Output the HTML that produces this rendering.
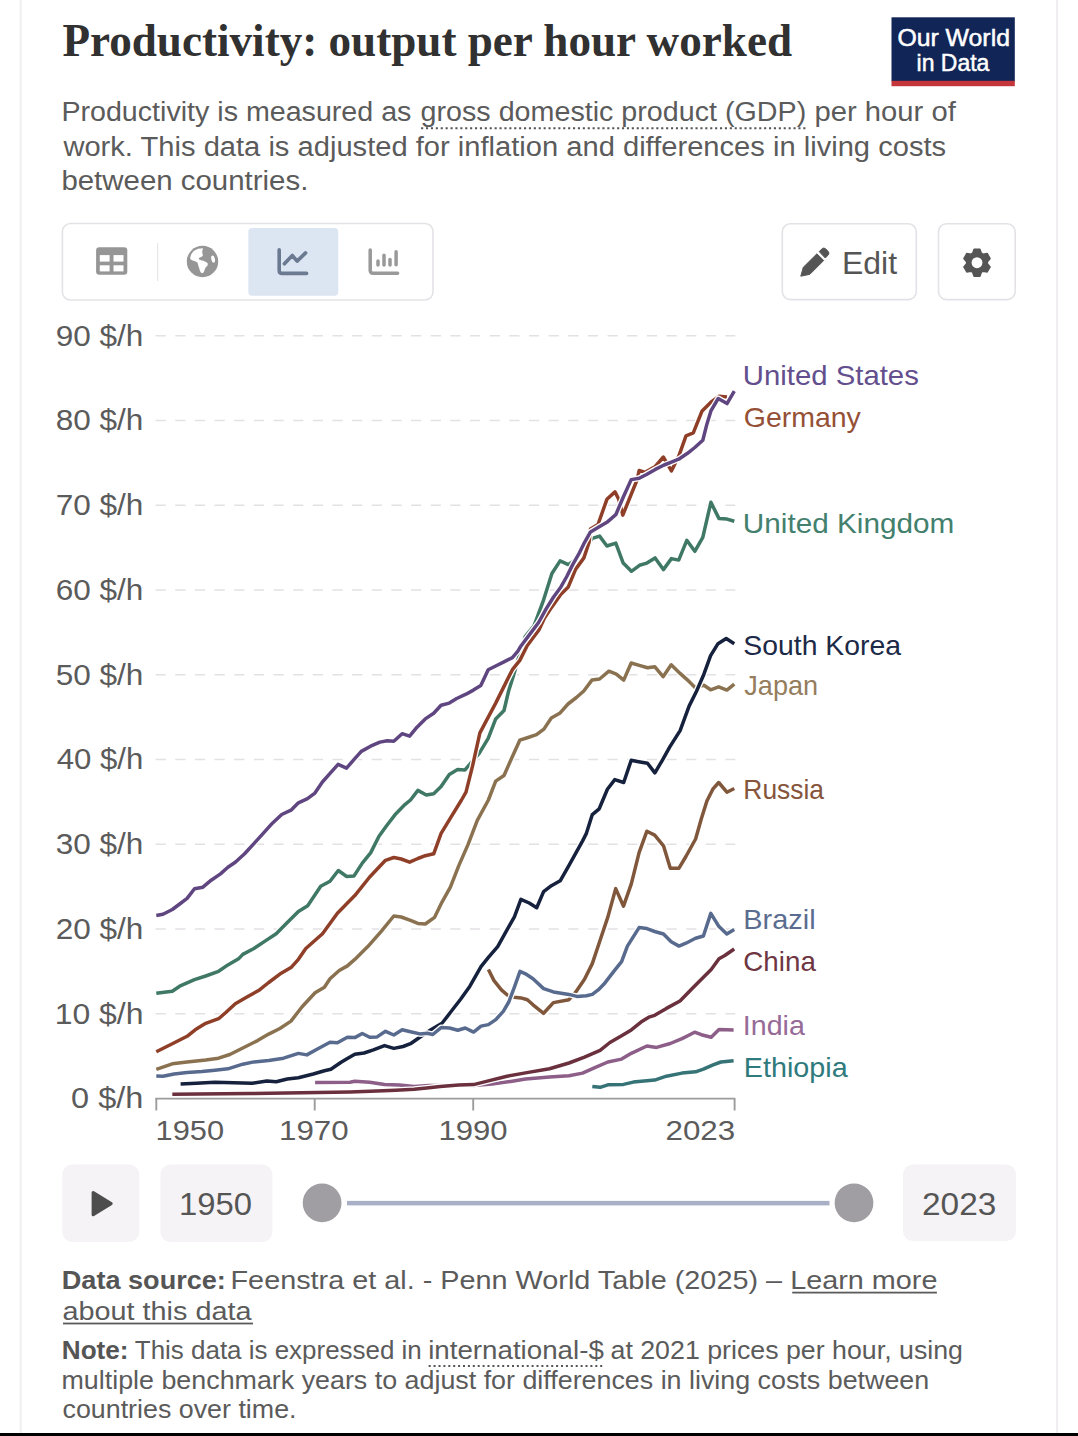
<!DOCTYPE html>
<html><head><meta charset="utf-8"><title>Productivity: output per hour worked</title>
<style>
html,body{margin:0;padding:0;background:#fff;}
body{width:1078px;height:1436px;overflow:hidden;position:relative;}
svg{position:absolute;left:0;top:0;display:block;}
</style></head><body>
<svg width="1078" height="1436" viewBox="0 0 1078 1436">
<rect x="0" y="0" width="1078" height="1436" fill="#ffffff"/>
<rect x="19.5" y="0" width="2.5" height="1433" fill="#f3f1f3"/>
<rect x="1056" y="0" width="2.2" height="1433" fill="#efedef"/>
<rect x="0" y="1433" width="1078" height="3" fill="#000"/>
<g transform="translate(0,56.3) scale(1,1.065) translate(0,-56.3)"><text x="62.40" y="56.3" font-family="'Liberation Serif', 'Times New Roman', serif" font-size="44" fill="#313131" font-weight="bold" text-anchor="start" textLength="729.62" lengthAdjust="spacingAndGlyphs">Productivity: output per hour worked</text>
</g>
<rect x="891.5" y="17.3" width="123.3" height="64" fill="#112657"/>
<rect x="891.5" y="80.8" width="123.3" height="5.4" fill="#c4363a"/>
<text x="897.40" y="46.3" font-family="'Liberation Sans', Arial, sans-serif" font-size="24.5" fill="#fff" font-weight="normal" text-anchor="start" textLength="112.55" lengthAdjust="spacingAndGlyphs" stroke="#fff" stroke-width="0.5">Our World</text>
<text x="916.60" y="70.9" font-family="'Liberation Sans', Arial, sans-serif" font-size="24.5" fill="#fff" font-weight="normal" text-anchor="start" textLength="72.82" lengthAdjust="spacingAndGlyphs" stroke="#fff" stroke-width="0.5">in Data</text>
<text x="61.40" y="121.2" font-family="'Liberation Sans', Arial, sans-serif" font-size="27" fill="#5b5b5b" font-weight="normal" text-anchor="start" textLength="350.02" lengthAdjust="spacingAndGlyphs">Productivity is measured as</text>
<text x="420.60" y="121.2" font-family="'Liberation Sans', Arial, sans-serif" font-size="27" fill="#5b5b5b" font-weight="normal" text-anchor="start" textLength="385.59" lengthAdjust="spacingAndGlyphs">gross domestic product (GDP)</text>
<line x1="421.1" y1="128.2" x2="808" y2="128.2" stroke="#555" stroke-width="2.1" stroke-dasharray="2.1,2.8"/>
<text x="814.50" y="121.2" font-family="'Liberation Sans', Arial, sans-serif" font-size="27" fill="#5b5b5b" font-weight="normal" text-anchor="start" textLength="141.3" lengthAdjust="spacingAndGlyphs">per hour of</text>
<text x="63.40" y="156.2" font-family="'Liberation Sans', Arial, sans-serif" font-size="27" fill="#5b5b5b" font-weight="normal" text-anchor="start" textLength="882.74" lengthAdjust="spacingAndGlyphs">work. This data is adjusted for inflation and differences in living costs</text>
<text x="61.40" y="189.6" font-family="'Liberation Sans', Arial, sans-serif" font-size="27" fill="#5b5b5b" font-weight="normal" text-anchor="start" textLength="246.93" lengthAdjust="spacingAndGlyphs">between countries.</text>
<rect x="62.4" y="223.5" width="370.6" height="76.5" rx="8" fill="#fff" stroke="#e4e2e6" stroke-width="1.6"/>
<line x1="157.6" y1="243" x2="157.6" y2="281" stroke="#e8e6e8" stroke-width="1.2"/>
<g fill="#969696"><rect x="96.1" y="247.3" width="31.2" height="27.4" rx="3.2"/></g>
<g fill="#fff"><rect x="99.8" y="255.1" width="9.8" height="6.5"/><rect x="113.5" y="255.1" width="10" height="6.5"/><rect x="99.8" y="265.3" width="9.8" height="6.1"/><rect x="113.5" y="265.3" width="10" height="6.1"/></g>
<g transform="translate(202.5,261.5)"><circle r="15.7" fill="#969696"/>
<path d="M-12.3,-4.1 C-11.8,-6.5 -10.5,-9 -8.5,-10.8 C-6,-12.5 -3,-13.3 0.5,-13.3 C0,-11.5 -0.5,-10 -0.2,-8.8 C0,-7.5 0.6,-6.3 0.1,-5.6 C-1,-4.6 -3.2,-4.2 -3.8,-3.2 C-4,-2 -2,-1.2 -0.3,-1 C1.2,-0.6 2.4,0 3,0.3 C4.2,1 5.3,1.5 5.3,2.5 C5.3,3.5 5,4 4.6,4.6 C3.8,5.5 3,6 2.6,7 C2,8.5 1.8,10 1.2,10.8 C0.6,11.6 -0.5,11.9 -1,11.6 C-1.8,11 -2.4,10 -2.7,8.8 C-3.2,7 -3.8,5.5 -4.2,4.2 C-4.5,3 -4.6,1.8 -5,1.2 C-5.8,0.3 -6.8,-0.1 -7.6,-0.3 C-9,-0.7 -10.5,-1.2 -11.8,-1.9 C-12.2,-2.6 -12.4,-3.3 -12.3,-4.1 Z" fill="#fff"/>
<ellipse cx="10.6" cy="-2.4" rx="1.8" ry="3.6" transform="rotate(-12 10.6 -2.4)" fill="#fff"/></g>
<rect x="248.3" y="228" width="90" height="67.7" rx="4" fill="#dce5f2"/>
<path d="M279.2,249.9 V270.4 Q279.2,273.4 282.2,273.4 H306.6" fill="none" stroke="#6b7a91" stroke-width="3.6" stroke-linecap="round" stroke-linejoin="round"/>
<path d="M284.4,263.8 L292.3,255.5 L297.1,261.1 L305.6,252.9" fill="none" stroke="#6b7a91" stroke-width="3.6" stroke-linecap="round" stroke-linejoin="round"/>
<path d="M370.2,249.9 V270.2 Q370.2,273.2 373.2,273.2 H397.6" fill="none" stroke="#999" stroke-width="3.5" stroke-linecap="round" stroke-linejoin="round"/>
<g stroke="#999" stroke-width="3.5" stroke-linecap="round"><line x1="378" y1="261.1" x2="378" y2="265"/><line x1="384" y1="255.3" x2="384" y2="265"/><line x1="390" y1="259.5" x2="390" y2="265"/><line x1="396.1" y1="251.8" x2="396.1" y2="264.7"/></g>
<rect x="782.3" y="223.8" width="134" height="75.8" rx="8" fill="#fff" stroke="#e4e2e6" stroke-width="1.6"/>
<path d="M800.8,276.2 L803.3,267.3 L816.9,253.8 L823.7,260.5 L809.9,274.3 Z" fill="#555" stroke="#555" stroke-width="1" stroke-linejoin="round"/>
<path d="M819.2,251.6 L822.2,248.7 Q823.8,247.3 825.6,248.8 L828.2,251.4 Q829.7,253.2 828.2,254.9 L825.3,258 Z" fill="#555" stroke="#555" stroke-width="1" stroke-linejoin="round"/>
<text x="842.00" y="273.7" font-family="'Liberation Sans', Arial, sans-serif" font-size="31" fill="#555" font-weight="normal" text-anchor="start" textLength="55.08" lengthAdjust="spacingAndGlyphs">Edit</text>
<rect x="938.5" y="223.8" width="76.7" height="75.8" rx="8" fill="#fff" stroke="#e4e2e6" stroke-width="1.6"/>
<path d="M972.62,253.16 L974.06,249.22 L979.94,249.22 L981.38,253.16 L983.08,254.14 L987.20,253.41 L990.15,258.51 L987.45,261.72 L987.45,263.68 L990.15,266.89 L987.20,271.99 L983.08,271.26 L981.38,272.24 L979.94,276.18 L974.06,276.18 L972.62,272.24 L970.92,271.26 L966.80,271.99 L963.85,266.89 L966.55,263.68 L966.55,261.72 L963.85,258.51 L966.80,253.41 L970.92,254.14 Z M981.75,262.7 A4.75,4.75 0 1 0 972.25,262.7 A4.75,4.75 0 1 0 981.75,262.7 Z" fill="#555" fill-rule="evenodd" stroke="#555" stroke-width="1.4" stroke-linejoin="round"/>
<circle cx="977" cy="262.7" r="5.45" fill="#fff"/>
<line x1="155.6" y1="1013.8" x2="735.3" y2="1013.8" stroke="#e3e1e3" stroke-width="1.5" stroke-dasharray="10.2,9.45"/>
<line x1="155.6" y1="929.0" x2="735.3" y2="929.0" stroke="#e3e1e3" stroke-width="1.5" stroke-dasharray="10.2,9.45"/>
<line x1="155.6" y1="844.2" x2="735.3" y2="844.2" stroke="#e3e1e3" stroke-width="1.5" stroke-dasharray="10.2,9.45"/>
<line x1="155.6" y1="759.5" x2="735.3" y2="759.5" stroke="#e3e1e3" stroke-width="1.5" stroke-dasharray="10.2,9.45"/>
<line x1="155.6" y1="674.8" x2="735.3" y2="674.8" stroke="#e3e1e3" stroke-width="1.5" stroke-dasharray="10.2,9.45"/>
<line x1="155.6" y1="590.0" x2="735.3" y2="590.0" stroke="#e3e1e3" stroke-width="1.5" stroke-dasharray="10.2,9.45"/>
<line x1="155.6" y1="505.2" x2="735.3" y2="505.2" stroke="#e3e1e3" stroke-width="1.5" stroke-dasharray="10.2,9.45"/>
<line x1="155.6" y1="420.5" x2="735.3" y2="420.5" stroke="#e3e1e3" stroke-width="1.5" stroke-dasharray="10.2,9.45"/>
<line x1="155.6" y1="335.8" x2="735.3" y2="335.8" stroke="#e3e1e3" stroke-width="1.5" stroke-dasharray="10.2,9.45"/>
<text x="71.10" y="1108.3" font-family="'Liberation Sans', Arial, sans-serif" font-size="28.6" fill="#5b5b5b" font-weight="normal" text-anchor="start" textLength="72.31" lengthAdjust="spacingAndGlyphs">0 $/h</text>
<text x="54.70" y="1023.5" font-family="'Liberation Sans', Arial, sans-serif" font-size="28.6" fill="#5b5b5b" font-weight="normal" text-anchor="start" textLength="88.78" lengthAdjust="spacingAndGlyphs">10 $/h</text>
<text x="55.70" y="938.8" font-family="'Liberation Sans', Arial, sans-serif" font-size="28.6" fill="#5b5b5b" font-weight="normal" text-anchor="start" textLength="87.74" lengthAdjust="spacingAndGlyphs">20 $/h</text>
<text x="55.70" y="854.0" font-family="'Liberation Sans', Arial, sans-serif" font-size="28.6" fill="#5b5b5b" font-weight="normal" text-anchor="start" textLength="87.7" lengthAdjust="spacingAndGlyphs">30 $/h</text>
<text x="56.70" y="769.3" font-family="'Liberation Sans', Arial, sans-serif" font-size="28.6" fill="#5b5b5b" font-weight="normal" text-anchor="start" textLength="86.67" lengthAdjust="spacingAndGlyphs">40 $/h</text>
<text x="55.70" y="684.5" font-family="'Liberation Sans', Arial, sans-serif" font-size="28.6" fill="#5b5b5b" font-weight="normal" text-anchor="start" textLength="87.74" lengthAdjust="spacingAndGlyphs">50 $/h</text>
<text x="55.70" y="599.8" font-family="'Liberation Sans', Arial, sans-serif" font-size="28.6" fill="#5b5b5b" font-weight="normal" text-anchor="start" textLength="87.74" lengthAdjust="spacingAndGlyphs">60 $/h</text>
<text x="55.70" y="515.0" font-family="'Liberation Sans', Arial, sans-serif" font-size="28.6" fill="#5b5b5b" font-weight="normal" text-anchor="start" textLength="87.74" lengthAdjust="spacingAndGlyphs">70 $/h</text>
<text x="55.70" y="430.3" font-family="'Liberation Sans', Arial, sans-serif" font-size="28.6" fill="#5b5b5b" font-weight="normal" text-anchor="start" textLength="87.7" lengthAdjust="spacingAndGlyphs">80 $/h</text>
<text x="55.70" y="345.6" font-family="'Liberation Sans', Arial, sans-serif" font-size="28.6" fill="#5b5b5b" font-weight="normal" text-anchor="start" textLength="87.74" lengthAdjust="spacingAndGlyphs">90 $/h</text>
<line x1="155.3" y1="1098.6" x2="735.3" y2="1098.6" stroke="#9c9c9c" stroke-width="1.9"/>
<line x1="156.3" y1="1098.5" x2="156.3" y2="1110.5" stroke="#9c9c9c" stroke-width="1.9"/>
<line x1="314.7" y1="1098.5" x2="314.7" y2="1110.5" stroke="#9c9c9c" stroke-width="1.9"/>
<line x1="473.2" y1="1098.5" x2="473.2" y2="1110.5" stroke="#9c9c9c" stroke-width="1.9"/>
<line x1="734.6" y1="1098.5" x2="734.6" y2="1110.5" stroke="#9c9c9c" stroke-width="1.9"/>
<text x="155.60" y="1139.7" font-family="'Liberation Sans', Arial, sans-serif" font-size="28" fill="#5b5b5b" font-weight="normal" text-anchor="start" textLength="68.52" lengthAdjust="spacingAndGlyphs">1950</text>
<text x="279.00" y="1139.7" font-family="'Liberation Sans', Arial, sans-serif" font-size="28" fill="#5b5b5b" font-weight="normal" text-anchor="start" textLength="69.56" lengthAdjust="spacingAndGlyphs">1970</text>
<text x="438.50" y="1139.7" font-family="'Liberation Sans', Arial, sans-serif" font-size="28" fill="#5b5b5b" font-weight="normal" text-anchor="start" textLength="69.04" lengthAdjust="spacingAndGlyphs">1990</text>
<text x="665.50" y="1139.7" font-family="'Liberation Sans', Arial, sans-serif" font-size="28" fill="#5b5b5b" font-weight="normal" text-anchor="start" textLength="69.64" lengthAdjust="spacingAndGlyphs">2023</text>
<polyline points="156.3,993.3 172.3,991.2 179.7,986.2 194.5,979.7 205.7,976.0 218.6,971.3 227.9,964.9 239.0,958.4 242.8,954.4 253.9,948.5 265.0,941.1 276.2,933.7 287.3,922.5 298.4,911.4 307.7,905.8 320.7,886.3 330.0,881.3 338.3,870.5 346.7,876.5 353.9,876.1 362.3,863.1 370.6,852.9 379.0,836.2 386.4,826.0 395.7,813.9 404.9,804.6 410.5,800.0 417.9,790.4 426.3,795.0 433.7,793.7 441.1,786.6 449.3,774.6 457.6,769.6 465.0,769.9 469.7,764.4 479.0,753.6 488.2,738.4 495.7,718.9 504.0,710.5 508.6,691.0 513.3,676.2 519.0,656.0 525.2,636.6 534.1,625.5 543.0,601.7 551.9,573.5 560.1,560.9 568.3,564.6 575.5,559.7 584.6,542.6 589.5,541.8 592.3,538.4 599.6,536.1 606.9,546.0 615.8,543.1 623.2,563.1 631.4,571.3 639.5,565.3 646.9,563.1 655.1,557.9 663.4,569.6 671.4,558.6 678.7,560.1 686.8,540.3 694.8,551.3 702.8,537.4 710.9,502.3 718.9,518.4 727.0,519.1 734.3,521.3" fill="none" stroke="#fff" stroke-width="6.1" stroke-linejoin="round" stroke-linecap="butt"/>
<polyline points="156.3,993.3 172.3,991.2 179.7,986.2 194.5,979.7 205.7,976.0 218.6,971.3 227.9,964.9 239.0,958.4 242.8,954.4 253.9,948.5 265.0,941.1 276.2,933.7 287.3,922.5 298.4,911.4 307.7,905.8 320.7,886.3 330.0,881.3 338.3,870.5 346.7,876.5 353.9,876.1 362.3,863.1 370.6,852.9 379.0,836.2 386.4,826.0 395.7,813.9 404.9,804.6 410.5,800.0 417.9,790.4 426.3,795.0 433.7,793.7 441.1,786.6 449.3,774.6 457.6,769.6 465.0,769.9 469.7,764.4 479.0,753.6 488.2,738.4 495.7,718.9 504.0,710.5 508.6,691.0 513.3,676.2 519.0,656.0 525.2,636.6 534.1,625.5 543.0,601.7 551.9,573.5 560.1,560.9 568.3,564.6 575.5,559.7 584.6,542.6 589.5,541.8 592.3,538.4 599.6,536.1 606.9,546.0 615.8,543.1 623.2,563.1 631.4,571.3 639.5,565.3 646.9,563.1 655.1,557.9 663.4,569.6 671.4,558.6 678.7,560.1 686.8,540.3 694.8,551.3 702.8,537.4 710.9,502.3 718.9,518.4 727.0,519.1 734.3,521.3" fill="none" stroke="#3f7864" stroke-width="3.5" stroke-linejoin="round" stroke-linecap="butt"/>
<polyline points="315.1,1082.5 350.0,1082.2 354.8,1081.2 369.7,1082.2 384.5,1084.6 399.4,1085.1 414.2,1086.4 429.0,1085.5 473.6,1085.5 492.1,1084.0 510.7,1081.4 525.5,1079.0 549.5,1077.0 569.0,1075.7 582.6,1073.1 594.3,1067.9 607.9,1062.0 621.6,1059.1 631.3,1053.3 646.9,1046.0 656.6,1047.4 670.3,1043.5 682.0,1038.6 687.8,1035.7 694.6,1032.2 701.4,1034.7 711.2,1037.3 719.0,1029.5 733.6,1029.9" fill="none" stroke="#fff" stroke-width="6.1" stroke-linejoin="round" stroke-linecap="butt"/>
<polyline points="315.1,1082.5 350.0,1082.2 354.8,1081.2 369.7,1082.2 384.5,1084.6 399.4,1085.1 414.2,1086.4 429.0,1085.5 473.6,1085.5 492.1,1084.0 510.7,1081.4 525.5,1079.0 549.5,1077.0 569.0,1075.7 582.6,1073.1 594.3,1067.9 607.9,1062.0 621.6,1059.1 631.3,1053.3 646.9,1046.0 656.6,1047.4 670.3,1043.5 682.0,1038.6 687.8,1035.7 694.6,1032.2 701.4,1034.7 711.2,1037.3 719.0,1029.5 733.6,1029.9" fill="none" stroke="#8c5e88" stroke-width="3.5" stroke-linejoin="round" stroke-linecap="butt"/>
<polyline points="172.3,1094.2 250.0,1093.5 350.0,1092.0 377.1,1091.1 395.7,1090.2 414.2,1089.2 429.0,1087.7 440.2,1086.4 458.7,1085.1 473.6,1084.6 488.4,1080.9 507.0,1076.2 525.5,1072.9 549.5,1068.8 569.0,1063.0 584.5,1057.1 600.1,1050.3 609.9,1042.5 621.6,1035.7 631.3,1029.9 641.0,1022.1 648.8,1017.2 654.7,1015.3 666.4,1008.4 680.0,1001.0 691.7,989.0 701.4,979.2 711.2,969.5 719.0,958.8 724.8,955.5 734.2,949.0" fill="none" stroke="#fff" stroke-width="6.1" stroke-linejoin="round" stroke-linecap="butt"/>
<polyline points="172.3,1094.2 250.0,1093.5 350.0,1092.0 377.1,1091.1 395.7,1090.2 414.2,1089.2 429.0,1087.7 440.2,1086.4 458.7,1085.1 473.6,1084.6 488.4,1080.9 507.0,1076.2 525.5,1072.9 549.5,1068.8 569.0,1063.0 584.5,1057.1 600.1,1050.3 609.9,1042.5 621.6,1035.7 631.3,1029.9 641.0,1022.1 648.8,1017.2 654.7,1015.3 666.4,1008.4 680.0,1001.0 691.7,989.0 701.4,979.2 711.2,969.5 719.0,958.8 724.8,955.5 734.2,949.0" fill="none" stroke="#6a303d" stroke-width="3.5" stroke-linejoin="round" stroke-linecap="butt"/>
<polyline points="592.3,1086.4 600.1,1087.3 607.9,1084.8 623.5,1084.4 633.3,1082.1 654.7,1080.1 666.4,1076.2 682.0,1073.1 695.6,1071.8 703.4,1069.2 713.1,1064.9 720.9,1062.0 733.6,1060.7" fill="none" stroke="#fff" stroke-width="6.1" stroke-linejoin="round" stroke-linecap="butt"/>
<polyline points="592.3,1086.4 600.1,1087.3 607.9,1084.8 623.5,1084.4 633.3,1082.1 654.7,1080.1 666.4,1076.2 682.0,1073.1 695.6,1071.8 703.4,1069.2 713.1,1064.9 720.9,1062.0 733.6,1060.7" fill="none" stroke="#357377" stroke-width="3.5" stroke-linejoin="round" stroke-linecap="butt"/>
<polyline points="488.4,969.5 494.0,980.6 501.4,989.9 507.9,995.5 514.4,997.3 520.9,997.9 527.4,999.7 533.0,1004.8 543.6,1013.3 553.4,1002.6 569.0,999.7 575.8,991.9 584.5,979.2 592.3,963.6 600.1,940.3 607.9,916.9 615.7,888.6 623.5,906.2 631.3,883.8 639.1,852.6 646.9,831.2 654.7,835.1 663.5,845.8 670.3,868.2 679.0,868.2 685.9,856.5 695.6,839.0 701.4,818.5 706.9,801.0 712.8,789.2 718.7,782.5 726.9,792.2 734.3,788.5" fill="none" stroke="#fff" stroke-width="6.1" stroke-linejoin="round" stroke-linecap="butt"/>
<polyline points="488.4,969.5 494.0,980.6 501.4,989.9 507.9,995.5 514.4,997.3 520.9,997.9 527.4,999.7 533.0,1004.8 543.6,1013.3 553.4,1002.6 569.0,999.7 575.8,991.9 584.5,979.2 592.3,963.6 600.1,940.3 607.9,916.9 615.7,888.6 623.5,906.2 631.3,883.8 639.1,852.6 646.9,831.2 654.7,835.1 663.5,845.8 670.3,868.2 679.0,868.2 685.9,856.5 695.6,839.0 701.4,818.5 706.9,801.0 712.8,789.2 718.7,782.5 726.9,792.2 734.3,788.5" fill="none" stroke="#80573b" stroke-width="3.5" stroke-linejoin="round" stroke-linecap="butt"/>
<polyline points="156.3,1069.4 172.3,1063.8 187.1,1062.0 205.7,1060.1 218.6,1058.2 229.8,1054.5 242.8,1048.0 257.6,1040.6 268.7,1034.1 279.9,1028.5 291.0,1021.1 302.1,1006.7 315.1,992.8 324.4,987.2 330.0,978.8 339.2,970.5 347.4,965.9 354.8,959.4 367.8,946.6 380.8,931.8 393.8,916.0 401.2,917.0 410.5,920.3 417.9,923.4 425.3,924.0 434.6,917.3 442.0,902.1 450.4,887.2 458.7,865.9 468.0,844.6 477.3,820.4 488.4,800.0 495.7,781.1 504.0,775.5 511.4,758.8 519.8,740.2 528.1,737.5 536.5,734.7 543.9,729.1 551.3,718.0 559.7,713.3 568.0,704.0 576.4,697.5 583.8,691.0 592.1,679.9 599.6,679.0 608.9,671.2 616.3,674.2 623.7,680.1 631.2,663.0 640.1,665.7 647.5,667.8 654.9,666.8 663.1,676.7 671.2,664.8 680.1,673.4 687.6,680.1 695.0,687.5 703.9,685.3 710.6,689.8 718.7,686.8 726.9,690.1 734.3,684.1" fill="none" stroke="#fff" stroke-width="6.1" stroke-linejoin="round" stroke-linecap="butt"/>
<polyline points="156.3,1069.4 172.3,1063.8 187.1,1062.0 205.7,1060.1 218.6,1058.2 229.8,1054.5 242.8,1048.0 257.6,1040.6 268.7,1034.1 279.9,1028.5 291.0,1021.1 302.1,1006.7 315.1,992.8 324.4,987.2 330.0,978.8 339.2,970.5 347.4,965.9 354.8,959.4 367.8,946.6 380.8,931.8 393.8,916.0 401.2,917.0 410.5,920.3 417.9,923.4 425.3,924.0 434.6,917.3 442.0,902.1 450.4,887.2 458.7,865.9 468.0,844.6 477.3,820.4 488.4,800.0 495.7,781.1 504.0,775.5 511.4,758.8 519.8,740.2 528.1,737.5 536.5,734.7 543.9,729.1 551.3,718.0 559.7,713.3 568.0,704.0 576.4,697.5 583.8,691.0 592.1,679.9 599.6,679.0 608.9,671.2 616.3,674.2 623.7,680.1 631.2,663.0 640.1,665.7 647.5,667.8 654.9,666.8 663.1,676.7 671.2,664.8 680.1,673.4 687.6,680.1 695.0,687.5 703.9,685.3 710.6,689.8 718.7,686.8 726.9,690.1 734.3,684.1" fill="none" stroke="#8a7250" stroke-width="3.5" stroke-linejoin="round" stroke-linecap="butt"/>
<polyline points="180.6,1084.0 196.4,1083.3 214.9,1082.2 233.5,1082.7 252.0,1083.3 266.9,1080.9 276.2,1081.8 287.3,1079.0 298.4,1077.7 313.3,1074.0 324.4,1070.7 330.9,1069.2 341.1,1062.3 347.4,1058.6 354.8,1054.3 364.1,1053.0 373.4,1049.9 384.5,1045.6 393.8,1048.4 403.1,1046.5 410.5,1043.7 419.8,1037.2 430.9,1029.8 442.0,1023.3 451.3,1011.3 460.6,999.2 469.9,986.2 481.0,966.7 488.4,957.4 497.7,946.6 507.0,929.9 514.4,916.9 520.9,899.3 529.2,903.0 536.7,907.7 543.6,891.6 551.4,885.7 560.2,880.8 569.0,865.3 582.6,840.9 586.5,833.1 592.3,814.6 599.2,808.8 607.4,789.2 614.8,779.6 623.7,782.5 631.2,760.3 638.6,761.7 647.5,763.2 654.9,772.9 662.3,760.3 669.8,746.9 680.1,730.6 689.1,706.1 696.5,691.2 703.9,674.2 710.6,655.6 718.0,643.7 726.2,638.6 734.3,643.7" fill="none" stroke="#fff" stroke-width="6.1" stroke-linejoin="round" stroke-linecap="butt"/>
<polyline points="180.6,1084.0 196.4,1083.3 214.9,1082.2 233.5,1082.7 252.0,1083.3 266.9,1080.9 276.2,1081.8 287.3,1079.0 298.4,1077.7 313.3,1074.0 324.4,1070.7 330.9,1069.2 341.1,1062.3 347.4,1058.6 354.8,1054.3 364.1,1053.0 373.4,1049.9 384.5,1045.6 393.8,1048.4 403.1,1046.5 410.5,1043.7 419.8,1037.2 430.9,1029.8 442.0,1023.3 451.3,1011.3 460.6,999.2 469.9,986.2 481.0,966.7 488.4,957.4 497.7,946.6 507.0,929.9 514.4,916.9 520.9,899.3 529.2,903.0 536.7,907.7 543.6,891.6 551.4,885.7 560.2,880.8 569.0,865.3 582.6,840.9 586.5,833.1 592.3,814.6 599.2,808.8 607.4,789.2 614.8,779.6 623.7,782.5 631.2,760.3 638.6,761.7 647.5,763.2 654.9,772.9 662.3,760.3 669.8,746.9 680.1,730.6 689.1,706.1 696.5,691.2 703.9,674.2 710.6,655.6 718.0,643.7 726.2,638.6 734.3,643.7" fill="none" stroke="#15213d" stroke-width="3.5" stroke-linejoin="round" stroke-linecap="butt"/>
<polyline points="156.3,1075.9 163.0,1076.2 174.1,1074.0 187.1,1072.5 202.0,1071.6 214.9,1070.3 227.9,1068.8 242.8,1064.2 253.9,1061.9 268.7,1060.5 283.6,1058.2 298.4,1053.4 306.8,1054.9 317.0,1049.3 330.0,1042.3 337.4,1042.8 347.4,1037.2 354.8,1037.6 362.3,1033.5 369.7,1037.2 377.1,1036.9 385.5,1031.3 393.8,1035.0 402.2,1029.8 410.5,1031.7 419.8,1033.9 427.2,1033.2 432.8,1034.5 441.1,1027.6 449.5,1028.0 457.8,1030.2 465.2,1028.0 473.6,1032.1 481.0,1026.1 488.4,1024.6 495.8,1019.6 503.3,1011.3 508.8,1002.0 514.4,987.1 520.0,971.3 525.5,973.8 533.0,978.8 543.6,988.6 553.4,991.9 569.0,994.4 576.8,996.4 586.5,995.8 592.3,994.4 598.2,989.9 604.0,984.1 613.8,971.4 621.6,961.7 627.4,946.1 639.1,927.6 646.9,928.6 654.7,931.5 663.5,934.0 671.2,941.8 679.0,946.1 685.9,943.2 695.6,938.3 703.4,936.0 710.8,913.4 719.0,926.6 726.8,934.0 734.2,929.6" fill="none" stroke="#fff" stroke-width="6.1" stroke-linejoin="round" stroke-linecap="butt"/>
<polyline points="156.3,1075.9 163.0,1076.2 174.1,1074.0 187.1,1072.5 202.0,1071.6 214.9,1070.3 227.9,1068.8 242.8,1064.2 253.9,1061.9 268.7,1060.5 283.6,1058.2 298.4,1053.4 306.8,1054.9 317.0,1049.3 330.0,1042.3 337.4,1042.8 347.4,1037.2 354.8,1037.6 362.3,1033.5 369.7,1037.2 377.1,1036.9 385.5,1031.3 393.8,1035.0 402.2,1029.8 410.5,1031.7 419.8,1033.9 427.2,1033.2 432.8,1034.5 441.1,1027.6 449.5,1028.0 457.8,1030.2 465.2,1028.0 473.6,1032.1 481.0,1026.1 488.4,1024.6 495.8,1019.6 503.3,1011.3 508.8,1002.0 514.4,987.1 520.0,971.3 525.5,973.8 533.0,978.8 543.6,988.6 553.4,991.9 569.0,994.4 576.8,996.4 586.5,995.8 592.3,994.4 598.2,989.9 604.0,984.1 613.8,971.4 621.6,961.7 627.4,946.1 639.1,927.6 646.9,928.6 654.7,931.5 663.5,934.0 671.2,941.8 679.0,946.1 685.9,943.2 695.6,938.3 703.4,936.0 710.8,913.4 719.0,926.6 726.8,934.0 734.2,929.6" fill="none" stroke="#586b8e" stroke-width="3.5" stroke-linejoin="round" stroke-linecap="butt"/>
<polyline points="156.3,1051.7 172.3,1043.7 187.1,1036.3 196.4,1028.9 205.7,1023.3 218.6,1018.7 226.1,1012.2 235.3,1003.8 246.5,997.3 259.5,989.9 268.7,982.5 279.9,974.1 291.0,967.6 298.4,959.3 305.8,948.5 322.5,933.7 337.4,913.2 354.8,895.6 369.7,877.0 385.5,860.3 393.8,857.5 401.2,859.0 409.6,862.2 417.9,858.5 425.3,855.7 433.7,853.8 441.1,833.4 451.3,816.7 461.5,800.0 466.0,792.2 472.5,766.2 479.9,732.8 486.4,720.7 495.7,703.1 504.9,684.6 512.4,669.7 519.8,660.4 527.3,645.5 538.9,630.0 544.5,618.0 551.9,606.9 560.9,594.3 568.3,586.9 575.7,569.1 583.9,557.9 589.1,542.3 590.5,529.0 598.0,524.5 606.9,499.3 615.0,491.9 618.7,499.3 622.8,515.1 637.0,480.0 639.2,470.5 645.1,472.3 655.3,466.5 663.4,457.0 671.4,470.9 678.7,456.3 686.0,435.8 693.3,432.9 702.1,410.9 710.9,402.2 718.9,396.3 727.0,397.0" fill="none" stroke="#fff" stroke-width="6.1" stroke-linejoin="round" stroke-linecap="butt"/>
<polyline points="156.3,1051.7 172.3,1043.7 187.1,1036.3 196.4,1028.9 205.7,1023.3 218.6,1018.7 226.1,1012.2 235.3,1003.8 246.5,997.3 259.5,989.9 268.7,982.5 279.9,974.1 291.0,967.6 298.4,959.3 305.8,948.5 322.5,933.7 337.4,913.2 354.8,895.6 369.7,877.0 385.5,860.3 393.8,857.5 401.2,859.0 409.6,862.2 417.9,858.5 425.3,855.7 433.7,853.8 441.1,833.4 451.3,816.7 461.5,800.0 466.0,792.2 472.5,766.2 479.9,732.8 486.4,720.7 495.7,703.1 504.9,684.6 512.4,669.7 519.8,660.4 527.3,645.5 538.9,630.0 544.5,618.0 551.9,606.9 560.9,594.3 568.3,586.9 575.7,569.1 583.9,557.9 589.1,542.3 590.5,529.0 598.0,524.5 606.9,499.3 615.0,491.9 618.7,499.3 622.8,515.1 637.0,480.0 639.2,470.5 645.1,472.3 655.3,466.5 663.4,457.0 671.4,470.9 678.7,456.3 686.0,435.8 693.3,432.9 702.1,410.9 710.9,402.2 718.9,396.3 727.0,397.0" fill="none" stroke="#8f3f28" stroke-width="3.5" stroke-linejoin="round" stroke-linecap="butt"/>
<polyline points="156.3,915.5 163.0,914.2 172.3,909.5 179.7,904.0 187.1,898.4 194.5,888.7 202.9,887.2 211.2,880.2 220.5,873.9 227.9,867.2 235.3,862.2 244.6,853.8 253.9,843.6 263.2,833.4 272.4,823.2 281.7,814.5 291.0,810.2 298.4,802.8 307.5,798.7 314.9,793.1 322.4,782.0 329.8,773.7 338.1,764.4 346.5,768.1 353.9,759.7 361.3,751.4 370.6,746.2 379.9,742.1 387.3,740.8 393.8,741.2 402.1,733.7 409.6,736.2 417.0,727.2 425.3,718.9 433.7,713.3 441.1,705.3 449.3,703.1 456.7,698.5 466.0,694.2 473.4,690.1 480.8,685.5 488.2,669.7 495.7,666.0 504.0,661.9 512.4,657.6 517.9,651.1 520.8,646.2 529.7,634.4 538.6,622.5 546.0,609.1 553.4,597.3 560.9,586.9 566.8,576.5 572.7,564.6 578.7,554.2 584.6,542.3 590.5,531.9 598.0,527.5 606.9,522.3 615.8,514.7 623.2,497.2 631.2,479.6 639.2,478.2 646.5,474.5 655.3,469.4 664.1,465.0 671.4,462.1 678.7,459.2 687.5,453.3 694.8,447.5 702.8,440.2 706.5,425.6 710.9,410.9 718.2,398.5 727.0,403.6 734.3,391.2" fill="none" stroke="#fff" stroke-width="6.1" stroke-linejoin="round" stroke-linecap="butt"/>
<polyline points="156.3,915.5 163.0,914.2 172.3,909.5 179.7,904.0 187.1,898.4 194.5,888.7 202.9,887.2 211.2,880.2 220.5,873.9 227.9,867.2 235.3,862.2 244.6,853.8 253.9,843.6 263.2,833.4 272.4,823.2 281.7,814.5 291.0,810.2 298.4,802.8 307.5,798.7 314.9,793.1 322.4,782.0 329.8,773.7 338.1,764.4 346.5,768.1 353.9,759.7 361.3,751.4 370.6,746.2 379.9,742.1 387.3,740.8 393.8,741.2 402.1,733.7 409.6,736.2 417.0,727.2 425.3,718.9 433.7,713.3 441.1,705.3 449.3,703.1 456.7,698.5 466.0,694.2 473.4,690.1 480.8,685.5 488.2,669.7 495.7,666.0 504.0,661.9 512.4,657.6 517.9,651.1 520.8,646.2 529.7,634.4 538.6,622.5 546.0,609.1 553.4,597.3 560.9,586.9 566.8,576.5 572.7,564.6 578.7,554.2 584.6,542.3 590.5,531.9 598.0,527.5 606.9,522.3 615.8,514.7 623.2,497.2 631.2,479.6 639.2,478.2 646.5,474.5 655.3,469.4 664.1,465.0 671.4,462.1 678.7,459.2 687.5,453.3 694.8,447.5 702.8,440.2 706.5,425.6 710.9,410.9 718.2,398.5 727.0,403.6 734.3,391.2" fill="none" stroke="#5f4680" stroke-width="3.5" stroke-linejoin="round" stroke-linecap="butt"/>
<text x="742.80" y="384.5" font-family="'Liberation Sans', Arial, sans-serif" font-size="28" fill="#634f8d" font-weight="normal" text-anchor="start" textLength="176.05" lengthAdjust="spacingAndGlyphs">United States</text>
<text x="743.80" y="426.7" font-family="'Liberation Sans', Arial, sans-serif" font-size="28" fill="#955036" font-weight="normal" text-anchor="start" textLength="117.03" lengthAdjust="spacingAndGlyphs">Germany</text>
<text x="742.80" y="532.6" font-family="'Liberation Sans', Arial, sans-serif" font-size="28" fill="#43806d" font-weight="normal" text-anchor="start" textLength="211.51" lengthAdjust="spacingAndGlyphs">United Kingdom</text>
<text x="743.30" y="655.1" font-family="'Liberation Sans', Arial, sans-serif" font-size="28" fill="#1c2947" font-weight="normal" text-anchor="start" textLength="157.7" lengthAdjust="spacingAndGlyphs">South Korea</text>
<text x="744.30" y="694.5" font-family="'Liberation Sans', Arial, sans-serif" font-size="28" fill="#957d5d" font-weight="normal" text-anchor="start" textLength="73.82" lengthAdjust="spacingAndGlyphs">Japan</text>
<text x="743.30" y="798.6" font-family="'Liberation Sans', Arial, sans-serif" font-size="28" fill="#85553c" font-weight="normal" text-anchor="start" textLength="80.76" lengthAdjust="spacingAndGlyphs">Russia</text>
<text x="743.30" y="929.2" font-family="'Liberation Sans', Arial, sans-serif" font-size="28" fill="#5a6d90" font-weight="normal" text-anchor="start" textLength="72.29" lengthAdjust="spacingAndGlyphs">Brazil</text>
<text x="743.30" y="971" font-family="'Liberation Sans', Arial, sans-serif" font-size="28" fill="#6e3642" font-weight="normal" text-anchor="start" textLength="72.53" lengthAdjust="spacingAndGlyphs">China</text>
<text x="742.80" y="1035.3" font-family="'Liberation Sans', Arial, sans-serif" font-size="28" fill="#966b97" font-weight="normal" text-anchor="start" textLength="62.07" lengthAdjust="spacingAndGlyphs">India</text>
<text x="743.80" y="1077.3" font-family="'Liberation Sans', Arial, sans-serif" font-size="28" fill="#2f7a7c" font-weight="normal" text-anchor="start" textLength="103.83" lengthAdjust="spacingAndGlyphs">Ethiopia</text>
<rect x="62.3" y="1164.5" width="77" height="77.5" rx="10" fill="#f6f3f6"/>
<path d="M93.2,1192.7 L93.2,1214.7 L111.1,1203.7 Z" fill="#4d4d4d" stroke="#4d4d4d" stroke-width="3.2" stroke-linejoin="round"/>
<rect x="160.4" y="1164.5" width="112" height="77.5" rx="10" fill="#f6f3f6"/>
<text x="179.00" y="1215.3" font-family="'Liberation Sans', Arial, sans-serif" font-size="32" fill="#555" font-weight="normal" text-anchor="start" textLength="73.0" lengthAdjust="spacingAndGlyphs">1950</text>
<rect x="347" y="1200.9" width="482.5" height="4.5" fill="#a9b0c6"/>
<circle cx="322.1" cy="1202.9" r="19.4" fill="#a09ea2"/>
<circle cx="854" cy="1202.8" r="19.4" fill="#a09ea2"/>
<rect x="903" y="1164.6" width="113" height="76.5" rx="10" fill="#f6f3f6"/>
<text x="922.00" y="1215.3" font-family="'Liberation Sans', Arial, sans-serif" font-size="32" fill="#555" font-weight="normal" text-anchor="start" textLength="74.31" lengthAdjust="spacingAndGlyphs">2023</text>
<text x="61.80" y="1288.6" font-family="'Liberation Sans', Arial, sans-serif" font-size="25.5" fill="#555" font-weight="bold" text-anchor="start" textLength="164.08" lengthAdjust="spacingAndGlyphs">Data source:</text>
<text x="230.50" y="1289.1" font-family="'Liberation Sans', Arial, sans-serif" font-size="25.5" fill="#5b5b5b" font-weight="normal" text-anchor="start" textLength="551.58" lengthAdjust="spacingAndGlyphs">Feenstra et al. - Penn World Table (2025) –</text>
<text x="790.20" y="1289.1" font-family="'Liberation Sans', Arial, sans-serif" font-size="25.5" fill="#5b5b5b" font-weight="normal" text-anchor="start" textLength="147.26" lengthAdjust="spacingAndGlyphs">Learn more</text>
<rect x="792.2" y="1291.7" width="144.7" height="1.8" fill="#5b5b5b"/>
<text x="62.50" y="1320" font-family="'Liberation Sans', Arial, sans-serif" font-size="25.5" fill="#5b5b5b" font-weight="normal" text-anchor="start" textLength="188.97" lengthAdjust="spacingAndGlyphs">about this data</text>
<rect x="63" y="1322.6" width="190" height="1.8" fill="#5b5b5b"/>
<text x="61.80" y="1359.3" font-family="'Liberation Sans', Arial, sans-serif" font-size="25.5" fill="#555" font-weight="bold" text-anchor="start" textLength="66.77" lengthAdjust="spacingAndGlyphs">Note:</text>
<text x="134.80" y="1359.3" font-family="'Liberation Sans', Arial, sans-serif" font-size="25.5" fill="#5b5b5b" font-weight="normal" text-anchor="start" textLength="287.0" lengthAdjust="spacingAndGlyphs">This data is expressed in</text>
<text x="428.20" y="1358.9" font-family="'Liberation Sans', Arial, sans-serif" font-size="25.5" fill="#5b5b5b" font-weight="normal" text-anchor="start" textLength="175.63" lengthAdjust="spacingAndGlyphs">international-$</text>
<line x1="428.7" y1="1366.1" x2="604.5" y2="1366.1" stroke="#555" stroke-width="2" stroke-dasharray="2,2.9"/>
<text x="610.50" y="1358.9" font-family="'Liberation Sans', Arial, sans-serif" font-size="25.5" fill="#5b5b5b" font-weight="normal" text-anchor="start" textLength="352.49" lengthAdjust="spacingAndGlyphs">at 2021 prices per hour, using</text>
<text x="61.50" y="1388.6" font-family="'Liberation Sans', Arial, sans-serif" font-size="25.5" fill="#5b5b5b" font-weight="normal" text-anchor="start" textLength="867.68" lengthAdjust="spacingAndGlyphs">multiple benchmark years to adjust for differences in living costs between</text>
<text x="62.50" y="1418.3" font-family="'Liberation Sans', Arial, sans-serif" font-size="25.5" fill="#5b5b5b" font-weight="normal" text-anchor="start" textLength="234.02" lengthAdjust="spacingAndGlyphs">countries over time.</text>
</svg>
</body></html>
